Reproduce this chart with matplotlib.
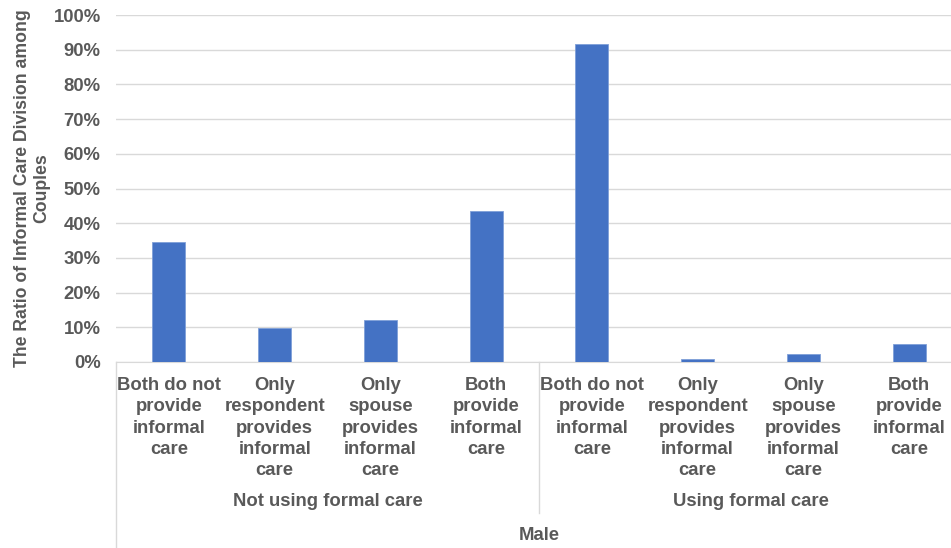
import matplotlib
matplotlib.use("Agg")
import matplotlib.pyplot as plt
from matplotlib.ticker import PercentFormatter

# data
categories = ["Both do not\nprovide\ninformal\ncare",
              "Only\nrespondent\nprovides\ninformal\ncare",
              "Only\nspouse\nprovides\ninformal\ncare",
              "Both\nprovide\ninformal\ncare"] * 2
groups = ["Not using formal care", "Using formal care"]
outer_label = "Male"
ratios = [0.345, 0.097, 0.122, 0.435, 0.916, 0.010, 0.023, 0.052]
ylabel = "The Ratio of Informal Care Division among\nCouples"

plt.rcParams['font.family'] = ['Liberation Sans', 'DejaVu Sans']
gray = '#595959'
line_col = '#d9d9d9'
fs = 13.3

fig = plt.figure(figsize=(9.51, 5.48), dpi=100)
ax = fig.add_axes([116 / 951, 1 - 362 / 548, 846 / 951, 347 / 548])

x = list(range(len(ratios)))
ax.bar(x, ratios, width=0.31, color='#4472C4', edgecolor='#7f9fd8', linewidth=0.6, zorder=3)

ax.set_xlim(-0.5, len(ratios) - 0.5)
ax.set_ylim(0, 1)
ax.set_yticks([i / 10 for i in range(11)])
ax.yaxis.set_major_formatter(PercentFormatter(1.0, decimals=0))
ax.grid(axis='y', color=line_col, linewidth=1, zorder=0)
for s in ['top', 'right', 'left']:
    ax.spines[s].set_visible(False)
ax.spines['bottom'].set_color(line_col)
ax.tick_params(axis='y', length=0, pad=11, labelsize=fs, labelcolor=gray)
ax.tick_params(axis='x', length=0, pad=11, labelsize=fs, labelcolor=gray)
for t in ax.get_yticklabels():
    t.set_fontweight('bold')
ax.set_xticks(x)
ax.set_xticklabels(categories, fontweight='bold', linespacing=1.32)

ax.set_ylabel(ylabel, fontsize=12.7, fontweight='bold', color=gray, linespacing=1.15)
ax.yaxis.set_label_coords(-0.078, 0.5)

# multi-level category axis
tr = ax.get_xaxis_transform()
px = 1 / 347
n = len(groups)
per = len(ratios) // n
for i, g in enumerate(groups):
    cx = i * per + (per - 1) / 2
    ax.text(cx, -(502 - 362) * px, g, transform=tr, ha='center', va='center',
            fontsize=fs, fontweight='bold', color=gray)
for i in range(1, n):
    xs = i * per - 0.5
    ax.plot([xs, xs], [0, -(513 - 362) * px], transform=tr, color=line_col,
            linewidth=1, clip_on=False)
ax.plot([-0.5, -0.5], [0, -(548 - 362) * px], transform=tr, color=line_col,
        linewidth=1, clip_on=False)
ax.text((len(ratios) - 1) / 2, -(536 - 362) * px, outer_label, transform=tr,
        ha='center', va='center', fontsize=fs, fontweight='bold', color=gray)

fig.savefig("out.png", dpi=100)
